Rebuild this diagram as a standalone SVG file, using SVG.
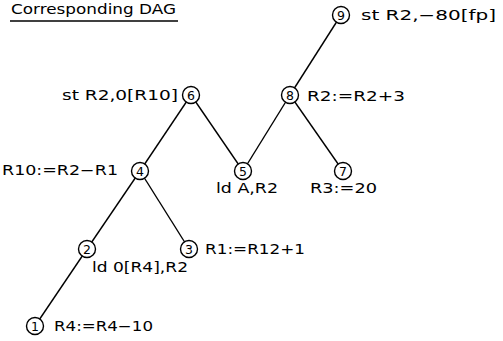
<svg xmlns="http://www.w3.org/2000/svg" width="503" height="341" viewBox="0 0 503 341">
<style>
text{font-family:"DejaVu Sans","Liberation Sans",sans-serif;fill:#000}
.lbl{font-size:14px}
.num{font-size:12.5px;text-anchor:middle}
.nc{fill:#fff;stroke:#000;stroke-width:1.4}
.edge{stroke:#000;stroke-width:1.4;fill:none}
</style>
<rect width="503" height="341" fill="#fff"/>
<g id="title">
<text class="lbl" x="11" y="14" textLength="165" lengthAdjust="spacingAndGlyphs">Corresponding DAG</text>
<line x1="10" y1="21" x2="178" y2="21" stroke="#000" stroke-width="1.3"/>
</g>
<g id="connectors">
<line class="edge" x1="341" y1="15" x2="290" y2="95"/>
<line class="edge" x1="290" y1="95" x2="243" y2="171"/>
<line class="edge" x1="290" y1="95" x2="343" y2="171"/>
<line class="edge" x1="191" y1="95" x2="243" y2="171"/>
<line class="edge" x1="191" y1="95" x2="140" y2="171"/>
<line class="edge" x1="140" y1="171" x2="87" y2="249"/>
<line class="edge" x1="140" y1="171" x2="189" y2="249"/>
<line class="edge" x1="87" y1="249" x2="35" y2="326"/>
</g>
<g id="n9"><circle class="nc" cx="341" cy="15" r="8.5"/><text class="num" x="341" y="19.5">9</text>
<text class="lbl" x="361" y="20" textLength="135" lengthAdjust="spacingAndGlyphs">st R2,−80[fp]</text></g>
<g id="n8"><circle class="nc" cx="290" cy="95" r="8.5"/><text class="num" x="290" y="99.5">8</text>
<text class="lbl" x="307" y="100.5" textLength="98" lengthAdjust="spacingAndGlyphs">R2:=R2+3</text></g>
<g id="n6"><circle class="nc" cx="191" cy="95" r="8.5"/><text class="num" x="191" y="99.5">6</text>
<text class="lbl" x="62" y="99.5" textLength="116" lengthAdjust="spacingAndGlyphs">st R2,0[R10]</text></g>
<g id="n4"><circle class="nc" cx="140" cy="171" r="8.5"/><text class="num" x="140" y="175.5">4</text>
<text class="lbl" x="2" y="175" textLength="116" lengthAdjust="spacingAndGlyphs">R10:=R2−R1</text></g>
<g id="n5"><circle class="nc" cx="243" cy="171" r="8.5"/><text class="num" x="243" y="175.5">5</text>
<text class="lbl" x="216" y="193" textLength="62" lengthAdjust="spacingAndGlyphs">ld A,R2</text></g>
<g id="n7"><circle class="nc" cx="343" cy="171" r="8.5"/><text class="num" x="343" y="175.5">7</text>
<text class="lbl" x="310" y="193" textLength="67" lengthAdjust="spacingAndGlyphs">R3:=20</text></g>
<g id="n3"><circle class="nc" cx="189" cy="249" r="8.5"/><text class="num" x="189" y="253.5">3</text>
<text class="lbl" x="205" y="253.5" textLength="100" lengthAdjust="spacingAndGlyphs">R1:=R12+1</text></g>
<g id="n2"><circle class="nc" cx="87" cy="249" r="8.5"/><text class="num" x="87" y="253.5">2</text>
<text class="lbl" x="92" y="272" textLength="96" lengthAdjust="spacingAndGlyphs">ld 0[R4],R2</text></g>
<g id="n1"><circle class="nc" cx="35" cy="326" r="8.5"/><text class="num" x="35" y="330.5">1</text>
<text class="lbl" x="54" y="330.5" textLength="99" lengthAdjust="spacingAndGlyphs">R4:=R4−10</text></g>
</svg>
